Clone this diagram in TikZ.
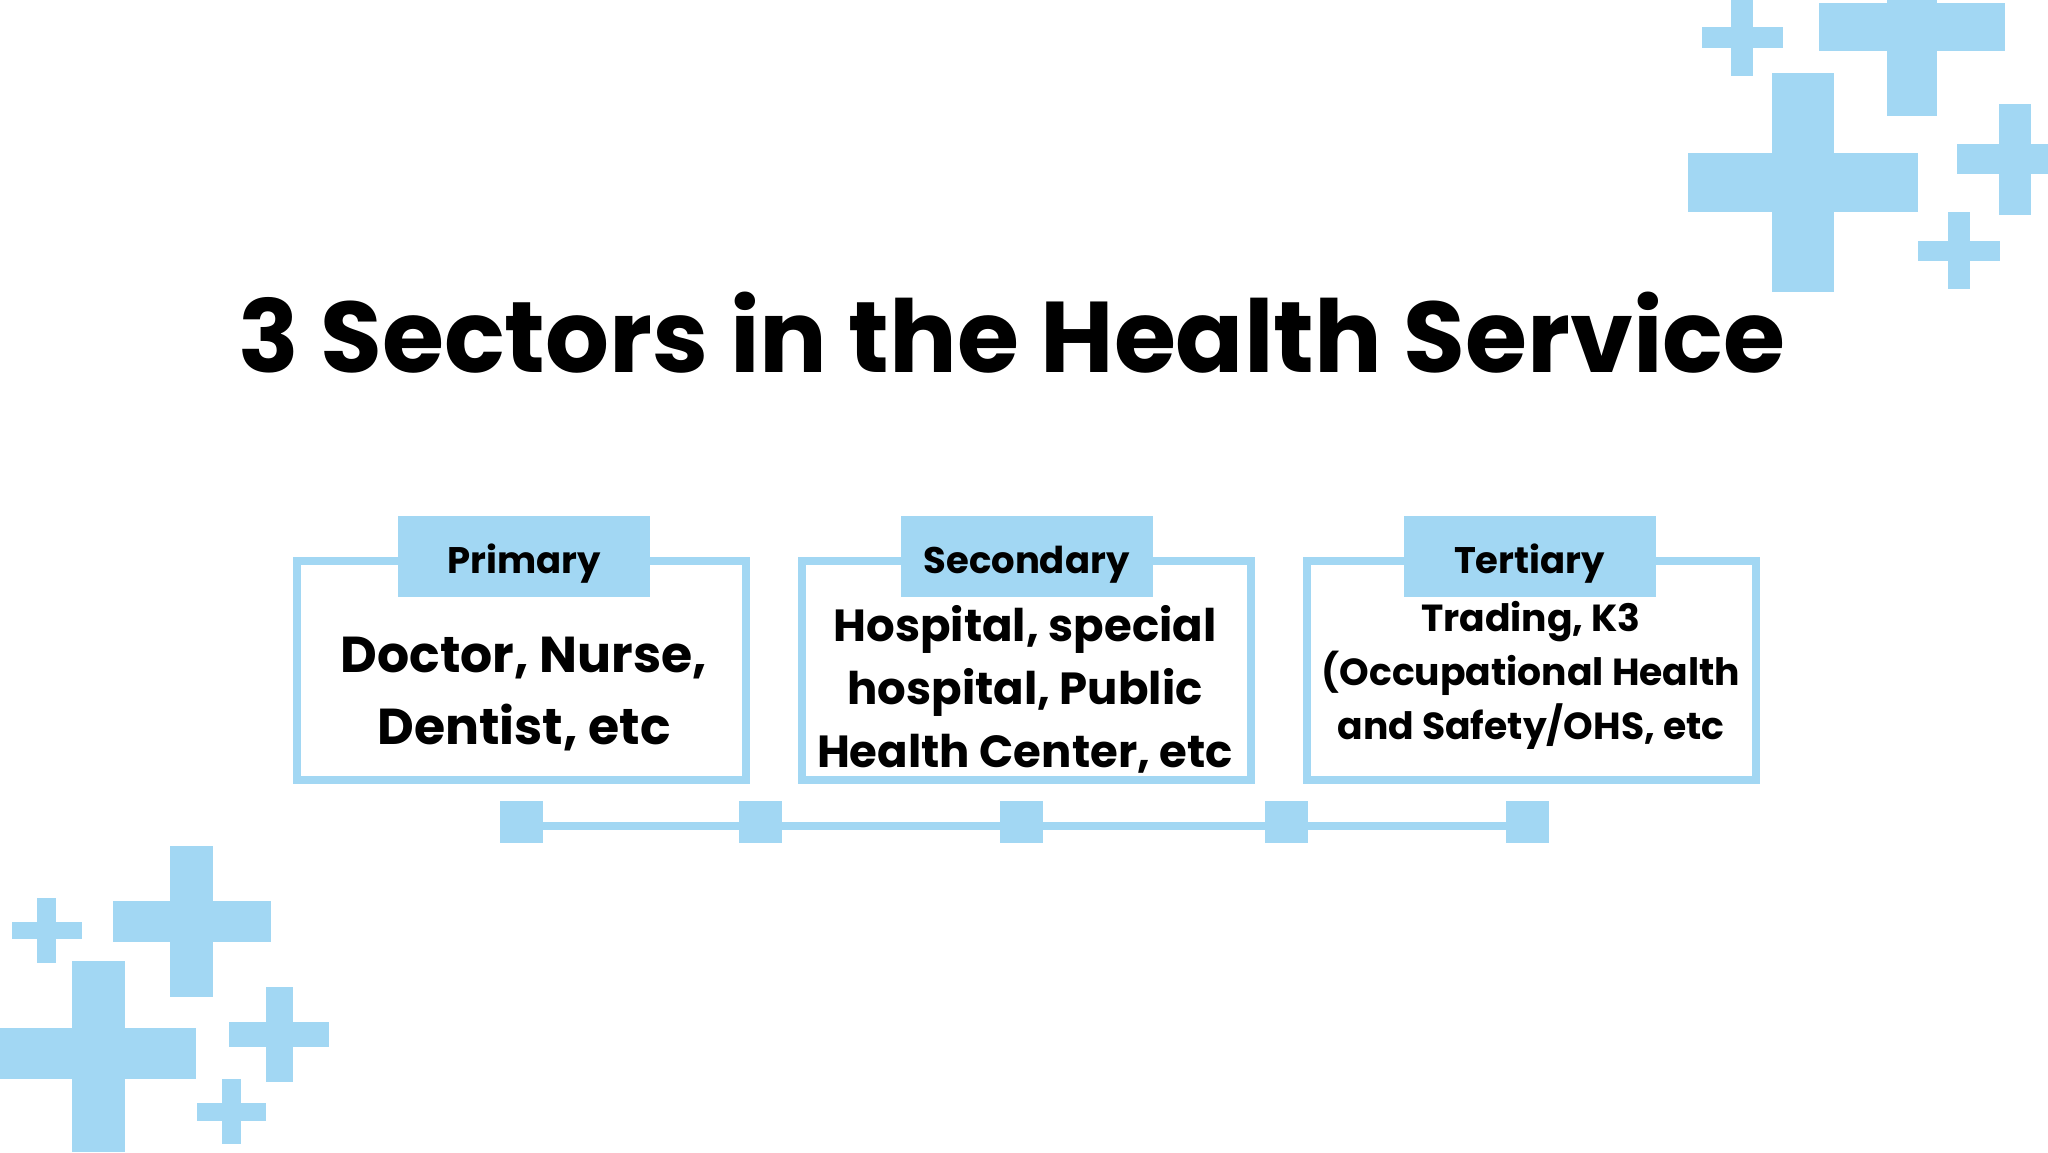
\documentclass[tikz,border=0pt]{standalone}
\usepackage{fontspec}
\setmainfont{Poppins}
\definecolor{sky}{HTML}{A2D7F3}
\tikzset{
  crossbar/.style={fill=sky, draw=none},
  sectorbox/.style={draw=sky, line width=8pt, minimum width=449pt, minimum height=219pt, inner sep=0pt},
  tagbox/.style={fill=sky, draw=none, minimum width=252pt, minimum height=81pt, inner sep=0pt,
    font=\fontsize{37}{42}\selectfont\bfseries, text height=38pt, text depth=5pt},
  dot/.style={fill=sky, draw=none, minimum width=43pt, minimum height=42pt, inner sep=0pt},
  tline/.style={draw=sky, line width=8pt},
  bodytext/.style={align=center, inner sep=0pt, font=\bfseries}
}
\begin{document}
\begin{tikzpicture}[x=1pt,y=-1pt]
\useasboundingbox[fill=white] (0,0) rectangle (2048,1152);
% crosses top right
\fill[crossbar] (1731,0) rectangle (1753,76);
\fill[crossbar] (1702,27) rectangle (1783,48);
\fill[crossbar] (1819,3) rectangle (2005,51);
\fill[crossbar] (1887,0) rectangle (1937,116);
\fill[crossbar] (1772,73) rectangle (1834,292);
\fill[crossbar] (1688,153) rectangle (1918,212);
\fill[crossbar] (1999,104) rectangle (2031,215);
\fill[crossbar] (1957,144) rectangle (2048,174);
\fill[crossbar] (1948,212) rectangle (1970,289);
\fill[crossbar] (1918,241) rectangle (2000,261);
% crosses bottom left
\fill[crossbar] (37,898) rectangle (56,963);
\fill[crossbar] (12,922) rectangle (82,939);
\fill[crossbar] (170,846) rectangle (213,997);
\fill[crossbar] (113,901) rectangle (271,942);
\fill[crossbar] (72,961) rectangle (125,1152);
\fill[crossbar] (0,1028) rectangle (196,1079);
\fill[crossbar] (266,987) rectangle (293,1082);
\fill[crossbar] (229,1022) rectangle (329,1047);
\fill[crossbar] (222,1079) rectangle (241,1144);
\fill[crossbar] (197,1103) rectangle (266,1121);
% title
\node[anchor=base, inner sep=0pt, font=\fontsize{100.5}{120}\selectfont\bfseries] (title) at (1012,372) {3 Sectors in the Health Service};
% boxes
\node[sectorbox] (b1) at (521.5,670.5) {};
\node[sectorbox] (b2) at (1026,670.5) {};
\node[sectorbox] (b3) at (1531.5,670.5) {};
\node[tagbox] (t1) at (524,556.5) {Primary};
\node[tagbox] (t2) at (1026.5,556.5) {Secondary};
\node[tagbox] (t3) at (1529.5,556.5) {Tertiary};
\node[bodytext, font=\fontsize{50.5}{72}\selectfont\bfseries] (x1) at (524,694) {Doctor, Nurse,\\Dentist, etc};
\node[bodytext, font=\fontsize{45}{63}\selectfont\bfseries] (x2) at (1025,689) {Hospital, special\\hospital, Public\\Health Center, etc};
\node[bodytext, font=\fontsize{37.7}{54}\selectfont\bfseries] (x3) at (1531,675) {Trading, K3\\(Occupational Health\\and Safety/OHS, etc};
% timeline
\node[dot] (s1) at (521.5,822) {};
\node[dot] (s2) at (760.5,822) {};
\node[dot] (s3) at (1021.5,822) {};
\node[dot] (s4) at (1286.5,822) {};
\node[dot] (s5) at (1527.5,822) {};
\draw[tline] ([yshift=-4pt]s1.center) -- ([yshift=-4pt]s2.center);
\draw[tline] ([yshift=-4pt]s2.center) -- ([yshift=-4pt]s3.center);
\draw[tline] ([yshift=-4pt]s3.center) -- ([yshift=-4pt]s4.center);
\draw[tline] ([yshift=-4pt]s4.center) -- ([yshift=-4pt]s5.center);
\end{tikzpicture}
\end{document}
